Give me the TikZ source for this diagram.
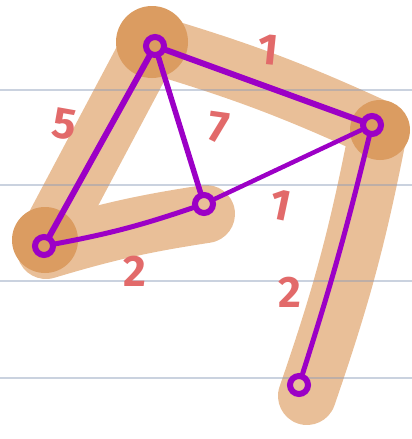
\documentclass[tikz,border=0pt]{standalone}
\usepackage{fontspec}
\setmainfont{Fira Sans}
\usepackage{tikz}
\usetikzlibrary{positioning}
\definecolor{band}{HTML}{E9BF98}
\definecolor{banddark}{HTML}{DB9C61}
\definecolor{rule}{HTML}{8A9BB8}
\definecolor{plum}{HTML}{9C00C6}
\definecolor{weightred}{HTML}{E26A6A}
\tikzset{
  hilite/.style={draw=band,line width=58pt,line cap=round,line join=round},
  spot/.style={fill=banddark},
  ruling/.style={draw=rule,opacity=0.45,line width=1.4pt},
  knot/.style={circle,draw=plum,line width=6pt,minimum size=18pt,inner sep=0pt},
  wire/.style={draw=plum,line width=5pt,line cap=round},
  weight/.style={font=\fontsize{44}{44}\selectfont\bfseries,text=weightred,inner sep=0pt}
}

\begin{document}
\begin{tikzpicture}[x=1pt,y=-1pt]
      \useasboundingbox (0,0) rectangle (412,439);

      % tree highlight
      \draw[hilite] (152,44) to[bend left=4] (380,130);
      \draw[hilite] (150,46) -- (46,242);
      \draw[hilite] (46,250) to[bend left=4] (206,214);
      \draw[hilite] (378,132) to[bend left=4] (307,396);
      \fill[spot] (152,42) circle (36);
      \fill[spot] (380,130) circle (30);
      \fill[spot] (45,240) circle (33);

      % ruled paper
      \foreach \y in {90,185,281,378} {
        \draw[ruling] (0,\y) -- (412,\y);
      }

      % vertices
      \node[knot] (a) at (155,46) {};
      \node[knot] (b) at (372,125) {};
      \node[knot] (c) at (204,204) {};
      \node[knot] (d) at (44,246) {};
      \node[knot] (e) at (299,385) {};

      % edges
      \draw[wire,line width=6pt] (a) -- (d);
      \draw[wire,line width=6pt] (a) -- (b);
      \draw[wire,line width=5.5pt] (a) -- (c);
      \draw[wire,line width=4.5pt] (c) -- (b);
      \draw[wire] (d) to[bend right=4] (c);
      \draw[wire] (b) to[bend left=2] (e);

      % weights
      \node[weight,rotate=-6] (wab) at (268,50) {1};
      \node[weight,rotate=-10] (wad) at (65,124) {5};
      \node[weight,rotate=-8] (wac) at (219,128) {7};
      \node[weight,rotate=-12] (wcb) at (281,205) {1};
      \node[weight] (wdc) at (135,271) {2};
      \node[weight] (wbe) at (290,292) {2};
\end{tikzpicture}
\end{document}
